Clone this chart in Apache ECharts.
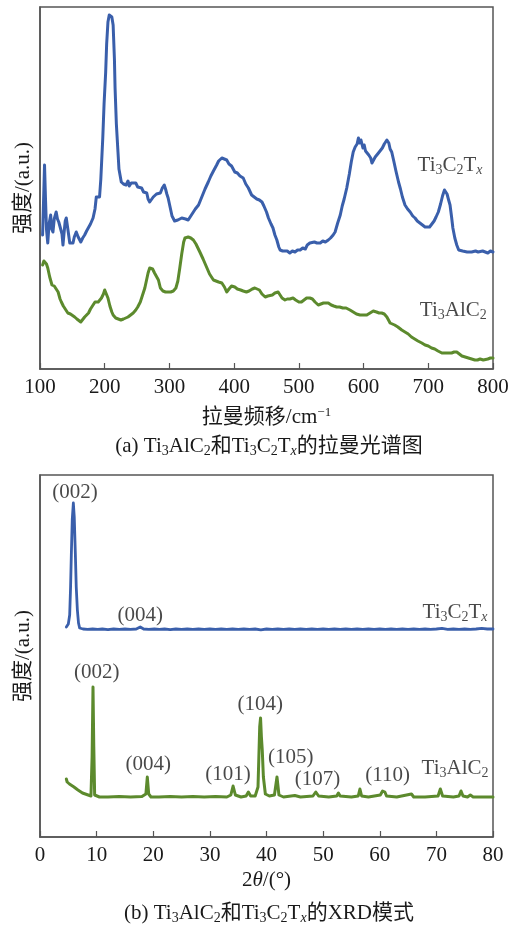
<!DOCTYPE html>
<html>
<head>
<meta charset="utf-8">
<script src="https://cdn.jsdelivr.net/npm/echarts@6/dist/echarts.min.js"></script>
<style>
  html, body { margin: 0; padding: 0; background: #fff; }
  #main { width: 515px; height: 925px; }
</style>
</head>
<body>
<div id="main"></div>
<script>
// Raman shift (cm-1) vs intensity (a.u., arbitrary offset units)
const ramanTi3C2Tx = [
  [104,134],[106,180],[107,204],[108.5,170],[110,140],[112,126],[114,145],[116.5,154],[118,140],[120,137],
  [122,150],[125,157],[127,150],[129,147],[132,149],[134,135],[135.5,124],[137,135],[139,148],[140.6,151],
  [143,140],[146,126],[148,128],[151,126],[153,132],[156,137],[159,132],[163,127],[166,131],[169,134],
  [172,138],[175,140],[178,145],[182,151],[185,160],[187,172],[190,173],[192,172],[194,190],[197,231],
  [199,265],[201.5,297],[203,325],[205,347],[207,354],[209,355],[211,352],[213,344],[215,310],[216,281],
  [218,245],[220.5,217],[222,200],[225.6,187],[229,185],[233,184],[236,188],[238,183],[241,186],[244,184],
  [248,186],[251,182],[254,180],[257,181],[260,177],[262,179],[265,176],[267,170],[269.5,167],[272,168],
  [275,172],[277,171],[280,175],[283,177],[286,176],[289,181],[292,184],[294,180],[296,175],[298,171],
  [301,162],[304,153],[306,151],[308,148],[310,146],[313,149],[316,148],[319,151],[322,149],[325,150],
  [329,149],[333,153],[336,155],[340,160],[345,164],[350,172],[355,180],[360,187],[364,193],[368,198],
  [373,204],[376,208],[379,210],[381,211],[384,209],[388.5,209],[392,205],[396,203],[401,197],[405,196],
  [409,193],[414,191],[418,185],[422,181],[427,174],[431,172],[435,170],[439,169],[443,167],[446,163],
  [450,157],[453,151],[457,145],[460,141],[463,134],[466,129],[469,122],[471,119],[475,118],[478,117],
  [482,118],[486,116],[490,118],[494,117],[498,119],[502,119],[506,121],[510,120],[513,124],[517,126],
  [520,124],[524,127],[528,126],[533,126],[537,128],[541,127],[545.5,129],[549,131],[553,134],[556,137],
  [560,146],[564,154],[567,163],[570,170],[574,181],[578,195],[581,207],[584,217],[587,222],[590,225],
  [592,231],[594,226],[596,229],[597,227],[599,221],[601,224],[603,218],[605,217],[608,214],[611,211],
  [613,206],[615,207],[618,212],[621,213],[623,216],[626,218],[629,221],[632,225],[634,227],[636,229],
  [639,226],[641,220],[643.5,217],[647,207],[650,198],[654,187],[657,180],[660,172],[664,164],[668,160],
  [672,157],[676,153],[679.5,151],[683,148],[687,146],[691,144],[695,142],[698,144],[702,142],[705,144],
  [709,148],[712,152],[715.5,157],[719,165],[722,173],[725,179],[727,179],[729,175],[731,170],[733.6,164],
  [736,152],[738,141],[741,131],[744,124],[747,119],[749,117],[753,118],[756,116],[760,117],[763,119],
  [767,117],[770,115],[773,118],[777,117],[780,116],[784,118],[788,117],[792,116],[796,118],[800,117]
];
const ramanTi3AlC2 = [
  [104,104],[106,108],[108,109],[110,105],[112,101],[115,92],[118.5,84],[122,83],[125,82],[128,77],
  [131,70],[133,67],[136,63],[140,59],[143,56],[147,55],[150,53],[153.6,52],[157,50],[160,48],
  [163,47],[166,49],[169,52],[171.6,54],[175,56],[178,60],[182,64],[185,67],[188,67],[190,67],
  [193,69],[195,71],[198,75],[200,79],[202,77],[205,71],[208,63],[211,57],[213,54],[217,51],
  [221,50],[225,49],[229,50],[232,51],[236,52],[240,54],[244,56],[248,59],[251,62],[255,67],
  [258,73],[262,81],[265,90],[267,96],[269.5,101],[272,102],[274,100],[277,96],[280,94],[283,89],
  [286,81],[290,78],[294,77],[298,77],[302,77],[306,78],[310,81],[313,88],[316,101],[319,115],
  [322,127],[324,131],[327,132],[329,132],[333,131],[337,129],[341,125],[347,117],[352,110],[358,101],
  [362,95],[368,89],[372,88],[376,87],[381,86],[385,82],[388.5,77],[392,80],[396,83],[401,82],
  [405,80],[410,79],[414,78],[419,77],[423,78],[428,80],[432,81],[435,81],[439,79],[443,75],
  [448,72],[452,73],[455,72],[459,74],[463,76],[466,77],[468,77],[471,74],[474,71],[478.6,69],
  [482,70],[486,70],[491,71],[495,69],[500,67],[504,67],[508,69],[512,71],[517,71],[521,70],
  [525,67],[530,64],[534,65],[538,66],[542,66],[545.5,66],[550,64],[554,63],[558.5,62],[563,62],
  [568,61],[573,61],[579,59],[584,57],[589,55],[594.5,54],[600,54],[605,54],[610,56],[615,58],
  [620,57],[624,56],[628,56],[632,55],[636,52],[641,46],[643.5,47],[648,44],[653,42],[659,39],
  [664,37],[669,35],[674,32],[679,30],[684,28],[690,26],[695,24],[700,23],[705,21],[710,20],
  [715,18],[721,16],[726,16],[731,16],[736,16],[740,17],[744,17],[748,15],[752,13],[757,12],
  [762,11],[767,10],[772,9],[776,9],[780,10],[785,9],[788,10],[792,10],[796,11],[800,11]
];

// XRD 2theta (deg) vs intensity (a.u., arbitrary offset units)
const xrdTi3C2Tx = [
  [4.65,210],[5.0,213],[5.24,222],[5.4,250],[5.54,284],[5.7,318],[5.89,334],[6.05,320],[6.24,284],[6.4,250],
  [6.6,227],[6.8,214],[7.0,209],[7.6,208],[8.4,207.6],[9.3,208],[10.2,207.6],[11.0,208],[12.0,207.3],[13.0,208],
  [14.0,207.6],[15.0,208],[16.0,207.6],[17.0,208],[17.7,210],[18.3,208],[19.2,207.6],[20.2,208],[21.1,207.6],[22.0,208],
  [23.0,207.3],[24.0,208],[25.0,207.6],[26.0,208],[27.0,207.6],[28.0,208],[29.0,207.6],[30.0,208],[31.0,207.6],[32.0,208],
  [33.0,207.6],[34.0,208],[35.0,207.6],[36.0,208],[37.0,207.6],[38.0,208],[39.0,207.2],[40.0,208],[41.0,207.6],[42.0,208],
  [43.0,207.6],[44.0,208],[45.0,207.6],[46.0,208],[47.0,207.6],[48.0,208],[49.0,207.6],[50.0,208],[51.0,207.6],[52.0,208],
  [53.0,207.6],[54.0,208],[55.0,207.6],[56.0,208],[57.0,207.6],[58.0,208],[59.0,207.6],[60.0,208],[61.0,207.6],[62.0,208],
  [63.0,207.6],[64.0,208],[65.0,207.6],[66.0,208],[67.0,207.6],[68.0,208],[69.0,207.6],[70.0,208],[71.0,208.6],[72.0,207.6],
  [73.0,208],[74.0,207.6],[75.0,208],[76.0,207.6],[77.0,208],[78.0,208.6],[79.0,208],[80.0,208]
];
const xrdTi3AlC2 = [
  [4.65,58],[4.8,55],[5.2,53],[6.0,50],[6.7,47],[7.5,44],[8.5,42],[9.0,41],[9.2,80],[9.36,150],
  [9.5,90],[9.65,42],[10.5,40],[12,40],[14,40.5],[16,40],[18,40.5],[18.7,43],[18.95,60],[19.2,43],
  [19.6,40],[21,40],[23,40.5],[25,40],[27,40.5],[29,40],[31,40.5],[33,40],[33.7,42],[34.1,51],
  [34.5,42],[35.5,40],[36.4,41],[36.8,45],[37.2,41],[38.0,41],[38.5,50],[38.8,110],[38.95,119],[39.1,100],
  [39.25,87],[39.45,60],[39.8,43],[40.5,41],[41.4,42],[41.85,60],[42.2,42],[43,40],[45,41.5],[46,40],
  [48.2,41],[48.7,45],[49.2,41],[51,40],[52.4,41],[52.7,44],[53,41],[55,40],[56.2,41],[56.5,48],
  [56.8,41],[58,40],[60.1,42],[60.5,46],[60.9,45],[61.2,41],[63,40],[65.6,43],[66,40],[68,40],
  [70.3,41],[70.7,48],[71.1,41],[73,40],[74.0,41],[74.35,46],[74.7,41],[75.5,40],[76,42],[76.5,40],
  [78,40],[80,40]
];

// text tags: [x, y, text]
const ramanTags = [
  [733.6, 204, 'Ti{s|3}C{s|2}T{si|x}'],
  [738.7, 59, 'Ti{s|3}AlC{s|2}']
];
const xrdTags = [
  [6.2, 345, '(002)'],
  [17.7, 222, '(004)'],
  [73.3, 225, 'Ti{s|3}C{s|2}T{si|x}'],
  [10.0, 165, '(002)'],
  [19.1, 73, '(004)'],
  [33.2, 63, '(101)'],
  [38.9, 133, '(104)'],
  [44.3, 80, '(105)'],
  [49.0, 58, '(107)'],
  [61.4, 62, '(110)'],
  [73.3, 69, 'Ti{s|3}AlC{s|2}']
];

const blue = '#3a5fab';
const green = '#5c8a2d';
const frame = '#555';
const serif = '"Liberation Serif", "Noto Sans CJK SC", serif';
const textColor = '#1a1a1a';
const fs = 21;

const rich = {
  s: { fontSize: 14, fontFamily: serif, color: textColor, padding: [10, 0, 0, 0] },
  si: { fontSize: 14, fontFamily: serif, fontStyle: 'italic', color: textColor, padding: [10, 0, 0, 0] },
  sup: { fontSize: 13, fontFamily: serif, color: textColor, padding: [0, 0, 10, 0] },
  it: { fontSize: fs, fontFamily: serif, fontStyle: 'italic', color: textColor }
};

const chart = echarts.init(document.getElementById('main'), null, { renderer: 'canvas' });

function xAxisOf(gridIndex, min, max, interval, name, nameGap) {
  return {
    gridIndex: gridIndex,
    type: 'value',
    min: min,
    max: max,
    interval: interval,
    name: name,
    nameLocation: 'middle',
    nameGap: nameGap,
    nameTextStyle: { fontSize: fs, fontFamily: serif, color: textColor, rich: rich },
    axisLine: { lineStyle: { color: frame, width: 1.5 } },
    axisTick: { inside: true, length: 6, lineStyle: { color: frame, width: 1.2 } },
    axisLabel: { fontSize: fs, fontFamily: serif, color: textColor, margin: 8 },
    splitLine: { show: false }
  };
}

function yAxisOf(gridIndex) {
  return {
    gridIndex: gridIndex,
    type: 'value',
    min: 0,
    max: 362,
    name: '强度/(a.u.)',
    nameLocation: 'middle',
    nameGap: 6,
    nameTextStyle: { fontSize: fs, fontFamily: serif, color: textColor },
    axisLine: { show: true, lineStyle: { color: frame, width: 1.5 } },
    axisTick: { show: false },
    axisLabel: { show: false },
    splitLine: { show: false }
  };
}

function lineOf(data, color, idx, width) {
  return {
    type: 'line',
    xAxisIndex: idx,
    yAxisIndex: idx,
    data: data,
    showSymbol: false,
    symbol: 'none',
    smooth: false,
    lineStyle: { color: color, width: width, join: 'round', cap: 'round' },
    animation: false
  };
}

function tagsOf(data, idx) {
  return {
    type: 'scatter',
    xAxisIndex: idx,
    yAxisIndex: idx,
    data: data,
    symbolSize: 1,
    itemStyle: { color: 'transparent' },
    label: {
      show: true,
      position: 'inside',
      formatter: p => p.data[2],
      fontSize: fs,
      fontFamily: serif,
      color: textColor,
      rich: rich
    },
    silent: true,
    animation: false
  };
}

const option = {
  backgroundColor: '#fff',
  title: [
    {
      text: '(a) Ti{s|3}AlC{s|2}和Ti{s|3}C{s|2}T{si|x}的拉曼光谱图',
      left: 264, textAlign: 'center', top: 429,
      textStyle: { fontSize: fs, fontWeight: 'normal', fontFamily: serif, color: textColor, rich: rich }
    },
    {
      text: '(b) Ti{s|3}AlC{s|2}和Ti{s|3}C{s|2}T{si|x}的XRD模式',
      left: 264, textAlign: 'center', top: 896,
      textStyle: { fontSize: fs, fontWeight: 'normal', fontFamily: serif, color: textColor, rich: rich }
    }
  ],
  grid: [
    { left: 40, top: 7, width: 453, height: 362, show: true, borderColor: frame, borderWidth: 1.5, backgroundColor: 'transparent' },
    { left: 40, top: 475, width: 453, height: 362, show: true, borderColor: frame, borderWidth: 1.5, backgroundColor: 'transparent' }
  ],
  xAxis: [
    xAxisOf(0, 100, 800, 100, '拉曼频移/cm{sup|−1}', 37),
    xAxisOf(1, 0, 80, 10, '2{it|θ}/(°)', 33)
  ],
  yAxis: [yAxisOf(0), yAxisOf(1)],
  series: [
    lineOf(ramanTi3C2Tx, blue, 0, 3),
    lineOf(ramanTi3AlC2, green, 0, 3),
    lineOf(xrdTi3C2Tx, blue, 1, 2.8),
    lineOf(xrdTi3AlC2, green, 1, 3),
    tagsOf(ramanTags, 0),
    tagsOf(xrdTags, 1)
  ]
};

chart.setOption(option);
</script>
</body>
</html>
